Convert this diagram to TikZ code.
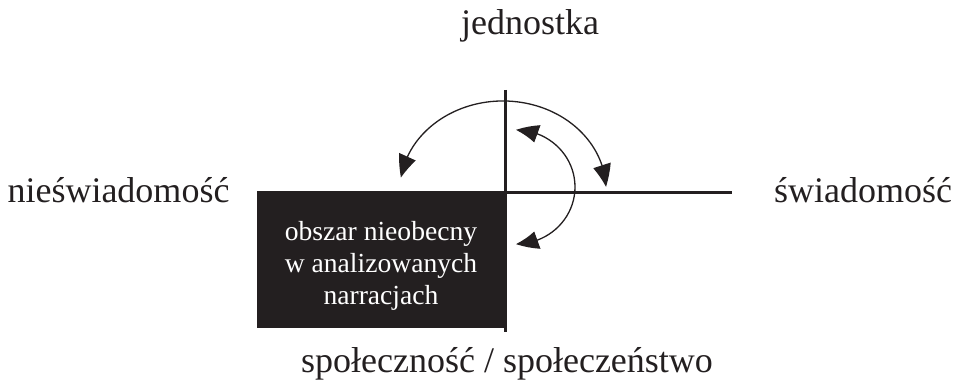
\documentclass[tikz,border=0pt]{standalone}
\usepackage{fontspec}
\setmainfont{Liberation Serif}
\usetikzlibrary{arrows.meta,bending}

\def\unit{0.5pt}
\definecolor{ink}{HTML}{231F20}
\tikzstyle{axis} = [draw, ink, line width=1.5pt]
\tikzstyle{turn} = [draw, ink, line width=0.65pt, {Triangle[length=11pt,width=9pt,bend]}-{Triangle[length=11pt,width=9pt,bend]}]
\tikzstyle{pole} = [inner sep=0pt, anchor=base, text=ink, font=\fontsize{18}{22}\selectfont]
\tikzstyle{absent} = [fill=ink, minimum width=124pt, minimum height=68.5pt, inner sep=0pt]
\tikzstyle{absent-text} = [text=white, align=center, inner sep=0pt, font=\fontsize{13.8}{16}\selectfont]

\begin{document}
\begin{tikzpicture}[x=\unit,y=\unit]
  \useasboundingbox (0,0) rectangle (960,383);

  \node[absent] (box) at (381,123.5) {};
  \node[absent-text] (box-text) at (381,117) {obszar nieobecny\\w analizowanych\\narracjach};

  \coordinate (origin) at (505,190);
  \coordinate (v-top) at (505,293);
  \coordinate (v-bottom) at (505,51);
  \coordinate (h-end) at (732,190);
  \path[axis] (v-top) -- (v-bottom);
  \path[axis] (origin) -- (h-end);

  \node[pole] (jednostka) at (530,348) {jednostka};
  \node[pole] (nieswiadomosc) at (118.5,180) {nieświadomość};
  \node[pole] (swiadomosc) at (863,180) {świadomość};
  \node[pole] (spolecznosc) at (507,10) {społeczność / społeczeństwo};

  \coordinate (outer-start) at (401,205.4);
  \coordinate (inner-start) at (516,253);
  \path[turn] (outer-start) arc[start angle=172, end angle=2, x radius=51.5pt, y radius=44.5pt];
  \path[turn] (inner-start) arc[start angle=90, end angle=-90, x radius=29.5pt, y radius=28.5pt];
\end{tikzpicture}
\end{document}
